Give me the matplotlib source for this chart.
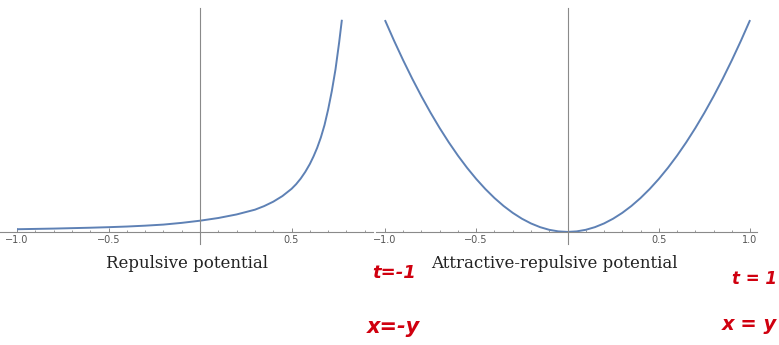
import numpy as np
import matplotlib
matplotlib.use("Agg")
from matplotlib import pyplot as plt
from matplotlib.ticker import FixedLocator, MultipleLocator

# Repulsive potential, sampled along x
x_rep = [-1.0, -0.9, -0.8, -0.7, -0.6, -0.5, -0.4, -0.3, -0.2, -0.1, 0.0,
         0.1, 0.2, 0.3, 0.35, 0.4, 0.45, 0.5, 0.525, 0.55, 0.575, 0.6, 0.62, 0.64,
         0.66, 0.68, 0.7, 0.72, 0.74, 0.76, 0.775]
v_rep = [0.21, 0.24, 0.27, 0.31, 0.35, 0.40, 0.46, 0.54, 0.64, 0.80, 1.00,
         1.25, 1.58, 2.02, 2.35, 2.76, 3.28, 3.95, 4.38, 4.90, 5.52, 6.25, 6.95, 7.75,
         8.70, 9.85, 11.3, 13.0, 15.0, 17.5, 19.6]

# Attractive-repulsive potential
x_att = [-1.0, -0.95, -0.9, -0.85, -0.8, -0.75, -0.7, -0.65, -0.6, -0.55, -0.5,
         -0.45, -0.4, -0.35, -0.3, -0.25, -0.2, -0.15, -0.1, -0.05, 0.0,
         0.05, 0.1, 0.15, 0.2, 0.25, 0.3, 0.35, 0.4, 0.45, 0.5,
         0.55, 0.6, 0.65, 0.7, 0.75, 0.8, 0.85, 0.9, 0.95, 1.0]
v_att = [1.0, 0.9025, 0.81, 0.7225, 0.64, 0.5625, 0.49, 0.4225, 0.36, 0.3025, 0.25,
         0.2025, 0.16, 0.1225, 0.09, 0.0625, 0.04, 0.0225, 0.01, 0.0025, 0.0,
         0.0025, 0.01, 0.0225, 0.04, 0.0625, 0.09, 0.1225, 0.16, 0.2025, 0.25,
         0.3025, 0.36, 0.4225, 0.49, 0.5625, 0.64, 0.7225, 0.81, 0.9025, 1.0]

titles = ["Repulsive potential", "Attractive-repulsive potential"]
left_ticks = [-1.0, -0.5, 0.5]
right_ticks = [-1.0, -0.5, 0.5, 1.0]

W, H = 779, 345
line_col = "#5e81b5"
axis_col = "#8a8a8a"
red = "#d0000f"

fig = plt.figure(figsize=(W / 100, H / 100), dpi=100)


def px_axes(x0, y0, x1, y1):
    # axes box given in pixel coords measured from the top-left corner
    return fig.add_axes([x0 / W, 1 - y1 / H, (x1 - x0) / W, (y1 - y0) / H])


def style(ax, ticks):
    for s in ["top", "right"]:
        ax.spines[s].set_visible(False)
    for s in ["bottom", "left"]:
        ax.spines[s].set_position(("data", 0))
        ax.spines[s].set_color(axis_col)
        ax.spines[s].set_linewidth(0.8)
    ax.xaxis.set_major_locator(FixedLocator(ticks))
    ax.set_xticklabels([("%.1f" % t).replace("-", "\u2212") for t in ticks])
    ax.xaxis.set_minor_locator(MultipleLocator(0.1))
    ax.tick_params(axis="x", which="major", direction="in", length=2.6, width=0.7,
                   color=axis_col, labelsize=7, labelcolor="#555555", pad=2.5)
    ax.tick_params(axis="x", which="minor", direction="in", length=1.7, width=0.6,
                   color=axis_col)
    ax.set_yticks([])
    ax.patch.set_visible(False)


# left panel
ax1 = px_axes(0, 8, 373, 244)
ax1.plot(x_rep, v_rep, color=line_col, lw=1.4, solid_capstyle="butt")
ax1.set_xlim(-1.093, 0.945)
ax1.set_ylim(-1.157, 20.69)
style(ax1, left_ticks)

# right panel
ax2 = px_axes(376, 8, 757, 244)
ax2.plot(x_att, v_att, color=line_col, lw=1.4, solid_capstyle="butt")
ax2.set_xlim(-1.049, 1.038)
ax2.set_ylim(-0.057, 1.057)
style(ax2, right_ticks)

# panel captions
cap = dict(ha="center", va="center", family="DejaVu Serif", fontsize=12,
           color="#222222")
fig.text(187 / W, 1 - 264 / H, titles[0], **cap)
fig.text(554 / W, 1 - 264 / H, titles[1], **cap)

# handwritten notes
hand = dict(ha="center", va="center", color=red,
            family="DejaVu Sans", fontweight="bold", fontstyle="italic")
fig.text(394 / W, 1 - 273 / H, "t=-1", fontsize=13, **hand)
fig.text(393 / W, 1 - 327 / H, "x=-y", fontsize=15, **hand)
fig.text(754 / W, 1 - 279 / H, "t = 1", fontsize=12, **hand)
fig.text(749 / W, 1 - 325 / H, "x = y", fontsize=14, **hand)

fig.savefig("out.png", dpi=100)
